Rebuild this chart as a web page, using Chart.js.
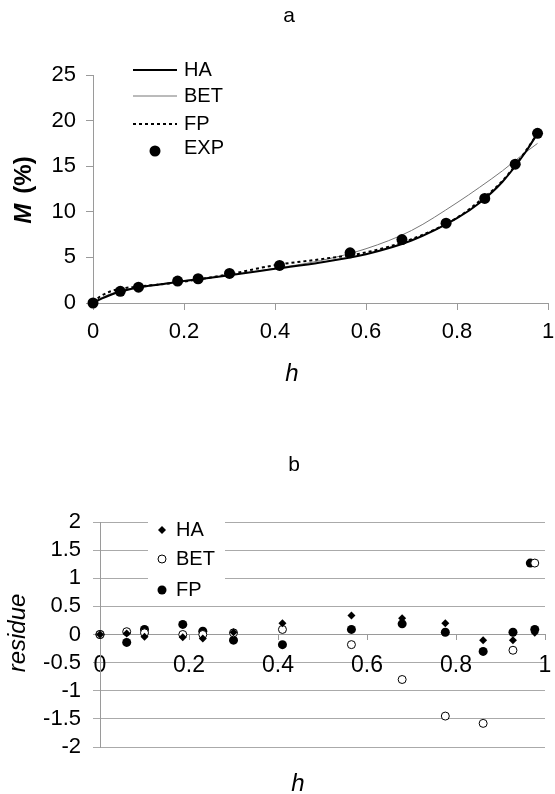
<!DOCTYPE html>
<html>
<head>
<meta charset="utf-8">
<script src="https://cdn.jsdelivr.net/npm/chart.js@4.4.1/dist/chart.umd.min.js"></script>
<style>
  html, body { margin: 0; padding: 0; background: #fff; }
  #wrap { position: relative; width: 555px; height: 794px; overflow: hidden; }
  .panel { position: absolute; left: 0; width: 555px; }
</style>
</head>
<body>
<div id="wrap">
  <div class="panel" style="top:0;height:400px"><canvas id="isotherm" width="555" height="400"></canvas></div>
  <div class="panel" style="top:400px;height:394px"><canvas id="residue" width="555" height="394"></canvas></div>
</div>
<script>
// --- data ---
// experimental points (chart a)
const hExp = [0, 0.06, 0.10, 0.186, 0.231, 0.30, 0.41, 0.565, 0.679, 0.776, 0.861, 0.928, 0.977];
const mExp = [0, 1.28, 1.73, 2.40, 2.66, 3.24, 4.12, 5.50, 6.96, 8.75, 11.46, 15.22, 18.6];

// model curves sampled along h (chart a)
const hCurve = [0, 0.02, 0.05, 0.1, 0.15, 0.2, 0.3, 0.4, 0.5, 0.6, 0.7, 0.8, 0.85, 0.9, 0.95, 0.977];
const mHA  = [0, 0.5, 1.1, 1.7, 2.05, 2.4, 3.05, 3.75, 4.45, 5.35, 6.85, 9.3, 11.0, 13.3, 16.5, 18.6];
const mBET = [0, 0.6, 1.2, 1.75, 2.1, 2.45, 3.05, 3.8, 4.65, 5.95, 7.95, 11.0, 12.7, 14.5, 16.5, 17.5];
const mFP  = [0.1, 0.85, 1.45, 1.8, 2.05, 2.35, 3.15, 4.15, 4.8, 5.55, 7.0, 9.35, 11.2, 13.4, 16.6, 18.6];

// residues (chart b)
const resHA  = [0, 0.02, -0.04, -0.05, -0.07, 0.04, 0.20, 0.34, 0.29, 0.20, -0.10, -0.10, 0.03];
const resBET = [0, 0.05, 0.03, 0.00, 0.00, 0.03, 0.09, -0.18, -0.80, -1.45, -1.58, -0.28, 1.27];
const resFP  = [0, -0.14, 0.09, 0.18, 0.06, -0.10, -0.18, 0.09, 0.19, 0.04, -0.30, 0.04, 0.09];
const hFPextra = [0.967];
const resFPextra = [1.27];

const seriesNames = ['HA', 'BET', 'FP', 'EXP'];

const pts = (xs, ys) => xs.map((x, i) => ({ x: x, y: ys[i] }));
const fmt = v => String(+(+v).toFixed(1));

const FONT = "'Liberation Sans', Arial, sans-serif";

function drawMarker(ctx, style, x, y, r, fill, stroke, lw) {
  ctx.beginPath();
  if (style === 'rectRot') {
    ctx.moveTo(x, y - r); ctx.lineTo(x + r, y); ctx.lineTo(x, y + r); ctx.lineTo(x - r, y);
    ctx.closePath();
  } else {
    ctx.arc(x, y, r, 0, Math.PI * 2);
  }
  ctx.fillStyle = fill;
  ctx.fill();
  if (lw) { ctx.lineWidth = lw; ctx.strokeStyle = stroke; ctx.stroke(); }
}

// titles, axis titles and the in-plot legend
const overlay = {
  id: 'overlay',
  afterDatasetsDraw(chart, args, opts) {
    const ctx = chart.ctx;
    ctx.save();
    const lg = opts.legend;
    if (lg) {
      if (lg.box) {
        ctx.fillStyle = '#fff';
        ctx.fillRect(lg.box[0], lg.box[1], lg.box[2], lg.box[3]);
      }
      chart.data.datasets.forEach((ds, i) => {
        const y = lg.rows[i];
        if (ds.showLine && !ds.pointRadius) {
          ctx.beginPath();
          ctx.setLineDash(ds.borderDash || []);
          ctx.lineWidth = ds.borderWidth;
          ctx.strokeStyle = ds.borderColor;
          ctx.moveTo(lg.lineFrom, y); ctx.lineTo(lg.lineTo, y);
          ctx.stroke();
          ctx.setLineDash([]);
        } else {
          drawMarker(ctx, ds.pointStyle, lg.marker, y + (lg.markerDy || 0), ds.pointRadius,
            ds.pointBackgroundColor, ds.pointBorderColor, ds.pointBorderWidth);
        }
        ctx.fillStyle = '#000';
        ctx.font = lg.font;
        ctx.textBaseline = 'middle';
        ctx.textAlign = 'left';
        ctx.fillText(ds.label, lg.textX, y);
      });
    }
    (opts.texts || []).forEach(t => {
      ctx.save();
      ctx.translate(t.x, t.y);
      if (t.rotate) ctx.rotate(t.rotate);
      ctx.fillStyle = '#000';
      ctx.textBaseline = 'middle';
      ctx.textAlign = 'left';
      const parts = t.parts;
      let total = 0;
      parts.forEach(p => { ctx.font = p.font; p.w = ctx.measureText(p.text).width; total += p.w + (p.gap || 0); });
      let x = -total / 2;
      parts.forEach(p => { ctx.font = p.font; ctx.fillText(p.text, x, 0); x += p.w + (p.gap || 0); });
      ctx.restore();
    });
    ctx.restore();
  }
};

const tickFont = { family: FONT, size: 22 };
const gray = '#9a9a9a';

// chart a: sorption isotherm
new Chart(document.getElementById('isotherm'), {
  type: 'scatter',
  data: {
    datasets: [
      { label: seriesNames[0], data: pts(hCurve, mHA), showLine: true, pointRadius: 0,
        borderColor: '#000', borderWidth: 2, cubicInterpolationMode: 'monotone', clip: false, order: 3 },
      { label: seriesNames[1], data: pts(hCurve, mBET), showLine: true, pointRadius: 0,
        borderColor: '#777', borderWidth: 1, cubicInterpolationMode: 'monotone', clip: false, order: 4 },
      { label: seriesNames[2], data: pts(hCurve, mFP), showLine: true, pointRadius: 0,
        borderColor: '#000', borderWidth: 2, borderDash: [3, 3], cubicInterpolationMode: 'monotone', clip: false, order: 2 },
      { label: seriesNames[3], data: pts(hExp, mExp), showLine: false, pointStyle: 'circle', pointRadius: 5.5,
        pointBackgroundColor: '#000', pointBorderColor: '#000', pointBorderWidth: 0, clip: false, order: 1 }
    ]
  },
  options: {
    responsive: false,
    animation: false,
    layout: { padding: { left: 0, right: 7, top: 75, bottom: 0 } },
    plugins: {
      legend: { display: false },
      tooltip: { enabled: false },
      overlay: {
        legend: { lineFrom: 133, lineTo: 177, marker: 155, markerDy: 3, textX: 184,
                  rows: [70, 96, 124, 148], font: '20px ' + FONT },
        texts: [
          { x: 289, y: 16, parts: [{ text: 'a', font: '21px ' + FONT }] },
          { x: 292, y: 374, parts: [{ text: 'h', font: 'italic 24px ' + FONT }] },
          { x: 24, y: 190, rotate: -Math.PI / 2, parts: [
            { text: 'M', font: 'italic bold 24px ' + FONT, gap: 10 },
            { text: '(%)', font: 'bold 24px ' + FONT } ] }
        ]
      }
    },
    scales: {
      x: {
        type: 'linear', min: 0, max: 1,
        ticks: { stepSize: 0.2, font: tickFont, color: '#000', padding: 9, maxRotation: 0, autoSkip: false, callback: fmt },
        grid: { drawOnChartArea: false, tickLength: 7, color: gray },
        border: { color: gray },
        afterFit: s => { s.height = 97; s.paddingLeft = 0; s.paddingRight = 0; }
      },
      y: {
        type: 'linear', min: 0, max: 25,
        ticks: { stepSize: 5, font: tickFont, color: '#000', padding: 10, autoSkip: false },
        grid: { drawOnChartArea: false, tickLength: 7, color: gray },
        border: { color: gray },
        afterFit: s => { s.width = 93; s.paddingTop = 0; s.paddingBottom = 0; }
      }
    }
  },
  plugins: [overlay]
});

// chart b: residues
new Chart(document.getElementById('residue'), {
  type: 'scatter',
  data: {
    datasets: [
      { label: seriesNames[0], data: pts(hExp, resHA), pointStyle: 'rectRot', pointRadius: 4,
        pointBackgroundColor: '#000', pointBorderColor: '#000', pointBorderWidth: 0, clip: false, order: 1 },
      { label: seriesNames[1], data: pts(hExp, resBET), pointStyle: 'circle', pointRadius: 4,
        pointBackgroundColor: '#fff', pointBorderColor: '#000', pointBorderWidth: 1, clip: false, order: 2 },
      { label: seriesNames[2], data: pts(hExp, resFP).concat(pts(hFPextra, resFPextra)), pointStyle: 'circle', pointRadius: 4.5,
        pointBackgroundColor: '#000', pointBorderColor: '#000', pointBorderWidth: 0, clip: false, order: 3 }
    ]
  },
  options: {
    responsive: false,
    animation: false,
    layout: { padding: { left: 0, right: 10, top: 122, bottom: 47 } },
    plugins: {
      legend: { display: false },
      tooltip: { enabled: false },
      overlay: {
        legend: { box: [148, 112, 77, 90], marker: 162, textX: 176,
                  rows: [130, 159, 190], font: '20px ' + FONT },
        texts: [
          { x: 294, y: 65, parts: [{ text: 'b', font: '21px ' + FONT }] },
          { x: 298, y: 384, parts: [{ text: 'h', font: 'italic 24px ' + FONT }] },
          { x: 18, y: 233, rotate: -Math.PI / 2, parts: [{ text: 'residue', font: 'italic 24px ' + FONT }] }
        ]
      }
    },
    scales: {
      x: {
        type: 'linear', position: { y: 0 }, min: 0, max: 1,
        ticks: { stepSize: 0.2, font: { family: FONT, size: 23 }, color: '#000', padding: 12, maxRotation: 0, autoSkip: false, callback: fmt },
        grid: { drawOnChartArea: false, tickLength: 5, color: gray },
        border: { color: gray },
        afterFit: s => { s.paddingLeft = 0; s.paddingRight = 0; }
      },
      y: {
        type: 'linear', min: -2, max: 2,
        ticks: { stepSize: 0.5, font: tickFont, color: '#000', padding: 12, autoSkip: false, callback: fmt },
        grid: { color: '#aaa', tickLength: 7 },
        border: { color: gray },
        afterFit: s => { s.width = 100; s.paddingTop = 0; s.paddingBottom = 0; }
      }
    }
  },
  plugins: [overlay]
});
</script>
</body>
</html>
